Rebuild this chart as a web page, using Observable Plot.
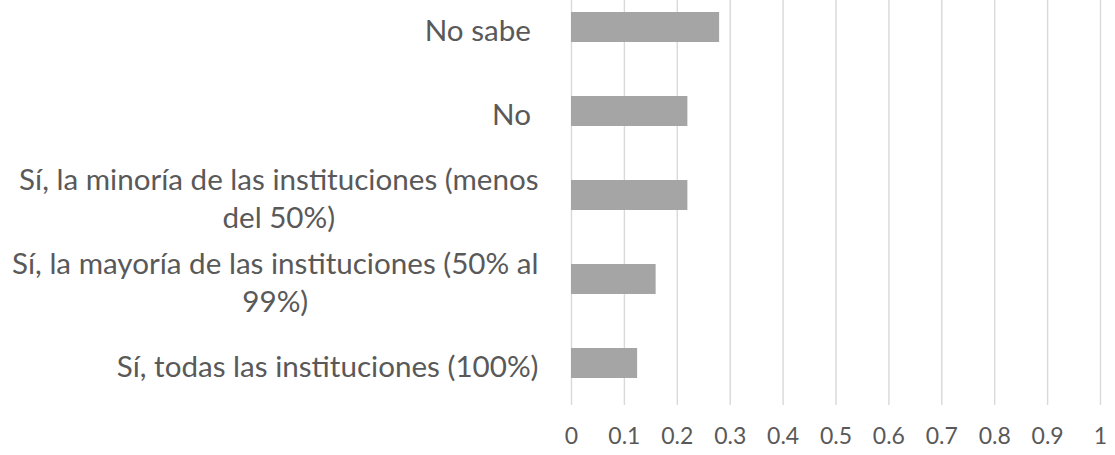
<!DOCTYPE html>
<html>
<head>
<meta charset="utf-8">
<script src="https://cdn.jsdelivr.net/npm/d3@7"></script>
<script src="https://cdn.jsdelivr.net/npm/@observablehq/plot@0.6"></script>
<style>
  html, body { margin: 0; padding: 0; background: #fff; }
  #chart svg text { white-space: pre; }
</style>
</head>
<body>
<div id="chart"></div>
<script>
// Categories, top to bottom (trailing spaces kept as in the source labels)
const categories = [
  "No sabe ",
  "No ",
  "Sí, la minoría de las instituciones (menos\ndel 50%)",
  "Sí, la mayoría de las instituciones (50% al\n99%)",
  "Sí, todas las instituciones (100%)"
];
const values = [0.28, 0.22, 0.22, 0.16, 0.125];
const tickValues = [0, 0.1, 0.2, 0.3, 0.4, 0.5, 0.6, 0.7, 0.8, 0.9, 1];
const tickLabels = ["0", "0.1", "0.2", "0.3", "0.4", "0.5", "0.6", "0.7", "0.8", "0.9", "1"];

const data = categories.map((c, i) => ({category: c, value: values[i]}));

const FONT = "Lato";
const LABEL_SIZE = 29.6;
const TICK_SIZE = 23;
const TEXT_COLOR = "#595959";
const GAP = 33;

const ctx = document.createElement("canvas").getContext("2d");
ctx.font = `${LABEL_SIZE}px ${FONT}`;
const blockWidth = s => Math.max(...s.split("\n").map(l => ctx.measureText(l).width));

const labelMarks = data.map(d => Plot.text([d], {
  y: "category",
  frameAnchor: "left",
  text: "category",
  textAnchor: "middle",
  lineAnchor: "middle",
  lineHeight: 38 / LABEL_SIZE,
  dx: -(GAP + blockWidth(d.category) / 2),
  dy: 1,
  fontSize: LABEL_SIZE,
  fontFamily: FONT,
  fill: TEXT_COLOR
}));

const chart = Plot.plot({
  width: 1115,
  height: 455,
  marginLeft: 571,
  marginRight: 15,
  marginTop: 0,
  marginBottom: 50,
  style: {fontFamily: FONT, background: "#fff"},
  x: {domain: [0, 1]},
  y: {domain: categories, range: [-14.5, 405.5], paddingInner: 0.64, paddingOuter: 0.32},
  marks: [
    Plot.gridX(tickValues, {stroke: "#d9d9d9", strokeOpacity: 1, strokeWidth: 1.4}),
    Plot.barX(data, {x: "value", y: "category", fill: "#a5a5a5"}),
    Plot.axisX({
      ticks: tickValues,
      tickFormat: (d, i) => tickLabels[i],
      tickSize: 0,
      tickPadding: 22,
      fontSize: TICK_SIZE,
      fontFamily: FONT,
      fill: TEXT_COLOR,
      label: null
    }),
    Plot.axisY({ticks: [], label: null}),
    ...labelMarks
  ]
});
document.getElementById("chart").appendChild(chart);
</script>
</body>
</html>
